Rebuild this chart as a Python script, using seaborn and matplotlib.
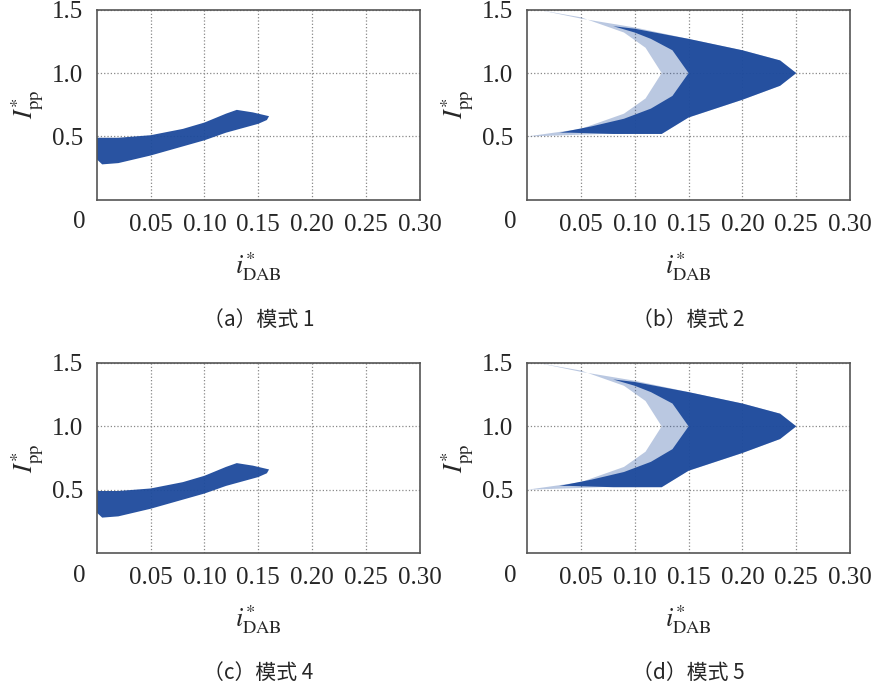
import matplotlib
matplotlib.use("Agg")
import matplotlib.pyplot as plt
import seaborn as sns

# boundary of the operating region, mode 1 / mode 4 (x = i*_DAB, y = I*_pp)
band_x = [0.0, 0.02, 0.05, 0.08, 0.10, 0.12, 0.13, 0.145, 0.16,
          0.158, 0.15, 0.12, 0.10, 0.05, 0.02, 0.005, 0.0]
band_y = [0.49, 0.49, 0.51, 0.56, 0.61, 0.68, 0.71, 0.69, 0.66,
          0.63, 0.60, 0.53, 0.47, 0.35, 0.29, 0.28, 0.32]

# light outer fringe of the crescent region, mode 2 / mode 5
halo_x = [0.01, 0.05, 0.10, 0.15, 0.20, 0.235, 0.25, 0.235, 0.20, 0.15, 0.125,
          0.07, 0.0, 0.05, 0.09, 0.11, 0.125, 0.11, 0.09, 0.05, 0.01]
halo_y = [1.50, 1.43, 1.36, 1.27, 1.18, 1.10, 1.00, 0.90, 0.79, 0.65, 0.52,
          0.52, 0.50, 0.56, 0.68, 0.80, 1.00, 1.20, 1.32, 1.44, 1.50]
# dense core of the crescent
core_x = [0.08, 0.10, 0.15, 0.20, 0.235, 0.25, 0.235, 0.20, 0.15, 0.125,
          0.08, 0.04, 0.03, 0.06, 0.09, 0.115, 0.135, 0.15, 0.135, 0.115, 0.10]
core_y = [1.37, 1.35, 1.27, 1.18, 1.10, 1.00, 0.90, 0.79, 0.65, 0.52,
          0.52, 0.53, 0.53, 0.58, 0.64, 0.72, 0.82, 1.00, 1.18, 1.27, 1.32]

x_ticks = [0.05, 0.10, 0.15, 0.20, 0.25, 0.30]
x_labels = ["0.05", "0.10", "0.15", "0.20", "0.25", "0.30"]
y_ticks = [0.5, 1.0, 1.5]
y_labels = ["0.5", "1.0", "1.5"]
captions = ["（a）模式 1", "（b）模式 2", "（c）模式 4", "（d）模式 5"]
kinds = ["band", "cres", "band", "cres"]

sns.set_style("white")
plt.rcParams["font.family"] = ["Liberation Serif", "Noto Sans CJK SC", "DejaVu Sans"]
plt.rcParams["mathtext.fontset"] = "stix"

BLUE = "#1d4a9c"
fig = plt.figure(figsize=(8.8, 6.94), dpi=100)
lefts = [0.110, 0.599, 0.110, 0.599]
bottoms = [0.712, 0.712, 0.203, 0.203]

for i in range(4):
    ax = fig.add_axes([lefts[i], bottoms[i], 0.367, 0.274])
    if kinds[i] == "band":
        ax.fill(band_x, band_y, color=BLUE, alpha=0.95, lw=0)
    else:
        ax.fill(halo_x, halo_y, color=BLUE, alpha=0.3, lw=0)
        ax.fill(core_x, core_y, color=BLUE, alpha=0.95, lw=0)
    ax.set_xlim(0, 0.30)
    ax.set_ylim(0, 1.5)
    ax.set_xticks(x_ticks)
    ax.set_xticklabels(x_labels, fontsize=18)
    ax.set_yticks(y_ticks)
    ax.set_yticklabels(y_labels, fontsize=18)
    ax.tick_params(length=0, pad=10)
    ax.grid(True, linestyle=":", color="#888888", lw=0.9)
    for s in ax.spines.values():
        s.set_color("#555555")
        s.set_linewidth(1.2)
    ax.text(-0.016, -0.09, "0", transform=ax.transData, fontsize=18,
            ha="center", va="top")
    ax.set_xlabel(r"$i^{*}_{\rm DAB}$", fontsize=19, labelpad=10)
    ax.set_ylabel(r"$I^{*}_{\rm pp}$", fontsize=19, labelpad=4)
    ax.text(0.5, -0.63, captions[i], transform=ax.transAxes, fontsize=15,
            ha="center", va="center",
            family=["Noto Sans CJK SC", "DejaVu Sans"])

fig.savefig("out.png", dpi=100)
